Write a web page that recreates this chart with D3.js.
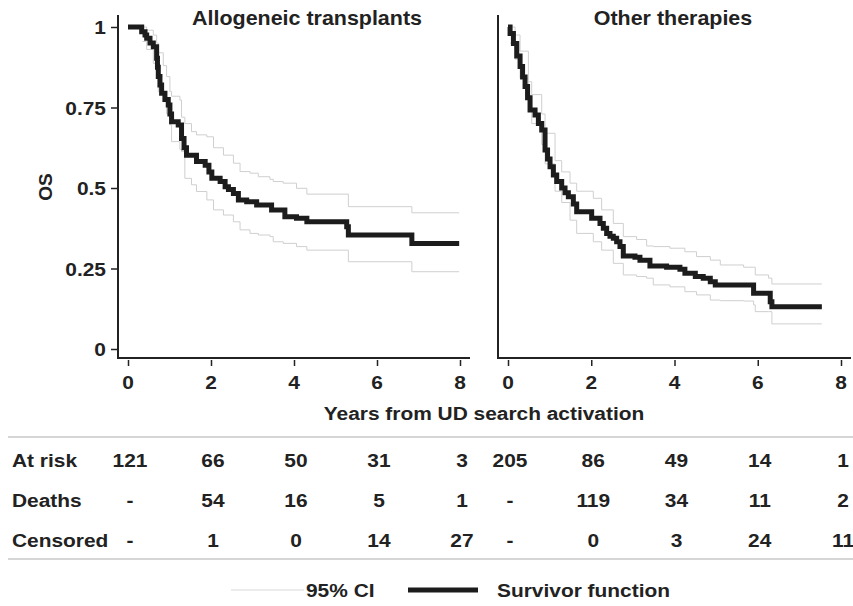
<!DOCTYPE html>
<html>
<head>
<meta charset="utf-8">
<script src="https://cdn.jsdelivr.net/npm/d3@7"></script>
<style>
  body { margin: 0; background: #fff; }
  svg text { font-family: "Liberation Sans", Arial, Helvetica, sans-serif; font-weight: bold; fill: #222; }
</style>
</head>
<body>
<svg id="chart"></svg>
<script>
// data
var years = [0, 2, 4, 6, 8];
var osTicks = [0, 0.25, 0.5, 0.75, 1];
var osTickLabels = ["0", "0.25", "0.5", "0.75", "1"];
var panelTitles = ["Allogeneic transplants", "Other therapies"];
var rowLabels = ["At risk", "Deaths", "Censored"];

// allogeneic transplants: survivor function (step after each time)
var alloTime = [0, 0.33, 0.41, 0.45, 0.53, 0.61, 0.69, 0.71, 0.73, 0.77, 0.81, 0.89, 0.97, 1.01, 1.05, 1.21, 1.29, 1.35, 1.41, 1.65,
  1.86, 1.95, 2.02, 2.22, 2.34, 2.42, 2.54, 2.66, 2.86, 3.10, 3.46, 3.78, 4.06, 4.31, 5.27, 5.31, 6.84];
var alloSurv = [1, 0.985, 0.975, 0.965, 0.95, 0.939, 0.903, 0.875, 0.846, 0.82, 0.794, 0.775, 0.758, 0.73, 0.706, 0.696, 0.654, 0.625, 0.602, 0.582,
  0.571, 0.55, 0.53, 0.52, 0.504, 0.495, 0.483, 0.463, 0.457, 0.447, 0.432, 0.411, 0.406, 0.395, 0.38, 0.354, 0.328];
var alloEnd = 7.98;
var alloCiTime = [0.35, 0.45, 0.61, 0.69, 0.73, 0.85, 0.93, 1.01, 1.05, 1.25, 1.29, 1.37, 1.53, 1.65, 1.90, 2.06, 2.30, 2.54, 2.70, 2.94,
  3.14, 3.42, 3.50, 3.74, 4.06, 4.31, 5.31, 6.84];
var alloLower = [0.955, 0.93, 0.887, 0.85, 0.799, 0.768, 0.73, 0.696, 0.644, 0.62, 0.613, 0.53, 0.51, 0.489, 0.463, 0.432, 0.416, 0.395, 0.37, 0.359,
  0.354, 0.349, 0.333, 0.328, 0.318, 0.307, 0.271, 0.24];
var alloUpper = [1.0, 0.99, 0.975, 0.95, 0.92, 0.88, 0.846, 0.80, 0.785, 0.773, 0.72, 0.70, 0.675, 0.665, 0.659, 0.625, 0.602, 0.577, 0.551, 0.546,
  0.535, 0.527, 0.52, 0.515, 0.499, 0.481, 0.442, 0.423];

// other therapies
var otherTime = [0, 0.05, 0.13, 0.21, 0.29, 0.35, 0.41, 0.47, 0.53, 0.65, 0.73, 0.81, 0.89, 0.95, 1.01, 1.09, 1.17, 1.29, 1.37, 1.45,
  1.57, 1.65, 2.01, 2.21, 2.29, 2.37, 2.45, 2.53, 2.61, 2.69, 2.77, 3.05, 3.17, 3.41, 3.81, 4.13, 4.25, 4.50, 4.69, 4.86,
  4.98, 5.90, 6.30, 6.34];
var otherSurv = [1, 0.98, 0.949, 0.91, 0.877, 0.845, 0.815, 0.78, 0.742, 0.727, 0.70, 0.68, 0.618, 0.59, 0.566, 0.54, 0.52, 0.50, 0.485, 0.473,
  0.45, 0.426, 0.406, 0.39, 0.375, 0.359, 0.35, 0.344, 0.333, 0.318, 0.289, 0.285, 0.276, 0.258, 0.254, 0.248, 0.235, 0.225, 0.22, 0.209,
  0.199, 0.173, 0.147, 0.131];
var otherEnd = 7.54;
var otherCiTime = [0.05, 0.17, 0.29, 0.49, 0.57, 0.81, 0.89, 1.13, 1.29, 1.49, 1.65, 2.05, 2.25, 2.53, 2.77, 3.09, 3.33, 3.49, 3.89, 4.25,
  4.53, 4.86, 5.10, 5.66, 5.90, 5.94, 6.26, 6.34];
var otherLower = [0.95, 0.90, 0.84, 0.74, 0.70, 0.635, 0.575, 0.49, 0.455, 0.40, 0.359, 0.333, 0.307, 0.266, 0.23, 0.225, 0.22, 0.199, 0.193, 0.178,
  0.168, 0.152, 0.15, 0.149, 0.137, 0.116, 0.116, 0.078];
var otherUpper = [1.0, 0.975, 0.925, 0.83, 0.79, 0.73, 0.67, 0.585, 0.55, 0.515, 0.49, 0.468, 0.432, 0.39, 0.349, 0.34, 0.32, 0.318, 0.313, 0.302,
  0.287, 0.276, 0.261, 0.254, 0.254, 0.23, 0.22, 0.202];

// risk table
var alloAtRisk = [121, 66, 50, 31, 3];
var alloDeaths = ["-", 54, 16, 5, 1];
var alloCensored = ["-", 1, 0, 14, 27];
var otherAtRisk = [205, 86, 49, 14, 1];
var otherDeaths = ["-", 119, 34, 11, 2];
var otherCensored = ["-", 0, 3, 24, 11];

var WIDTH = 853, HEIGHT = 606;
var SX = 1.1; // text in the reference is slightly stretched horizontally

var svg = d3.select("#chart").attr("width", WIDTH).attr("height", HEIGHT);

function label(g, x, y, str, anchor, size) {
  return g.append("text")
    .attr("transform", "translate(" + x + "," + y + ") scale(" + SX + ",1)")
    .attr("text-anchor", anchor)
    .style("font-size", size + "px")
    .text(str);
}

var y = d3.scaleLinear().domain([0, 1]).range([349, 27]);

var panels = [
  { x0: 118, range: [128, 460], axisEnd: 470, titleX: 307, title: panelTitles[0], time: alloTime, surv: alloSurv, end: alloEnd,
    ciTime: alloCiTime, lower: alloLower, upper: alloUpper, table: [alloAtRisk, alloDeaths, alloCensored] },
  { x0: 498, range: [508, 841], axisEnd: 851, titleX: 673, title: panelTitles[1], time: otherTime, surv: otherSurv, end: otherEnd,
    ciTime: otherCiTime, lower: otherLower, upper: otherUpper, table: [otherAtRisk, otherDeaths, otherCensored] }
];

var rowY = [467, 507, 547];

panels.forEach(function (p, pi) {
  var x = d3.scaleLinear().domain([0, 8]).range(p.range);
  var g = svg.append("g");

  var step = d3.line()
    .x(function (d) { return x(d[0]); })
    .y(function (d) { return y(d[1]); })
    .curve(d3.curveStepAfter);

  function pts(times, vals, end) {
    var a = times.map(function (t, i) { return [t, vals[i]]; });
    a.push([end, vals[vals.length - 1]]);
    return a;
  }

  // 95% CI
  [p.lower, p.upper].forEach(function (band) {
    g.append("path")
      .datum(pts(p.ciTime, band, p.end))
      .attr("d", step)
      .attr("fill", "none")
      .attr("stroke", "#cfcfcf")
      .attr("stroke-width", 1);
  });

  // survivor function
  g.append("path")
    .datum(pts(p.time, p.surv, p.end))
    .attr("d", step)
    .attr("fill", "none")
    .attr("stroke", "#1c1c1c")
    .attr("stroke-width", 5);

  // axis lines
  g.append("line").attr("x1", p.x0).attr("x2", p.x0).attr("y1", 15).attr("y2", 359)
    .attr("stroke", "#222").attr("stroke-width", 2);
  g.append("line").attr("x1", p.x0 - 1).attr("x2", p.axisEnd).attr("y1", 358).attr("y2", 358)
    .attr("stroke", "#222").attr("stroke-width", 2);

  // x ticks
  var xAxis = g.append("g")
    .attr("transform", "translate(0,360)")
    .call(d3.axisBottom(x).tickValues(years).tickSize(6).tickSizeOuter(0).tickFormat(""));
  xAxis.select(".domain").remove();
  xAxis.selectAll(".tick line").attr("stroke", "#222").attr("stroke-width", 1.5);
  years.forEach(function (v) {
    label(g, x(v), 389, String(v), "middle", 19);
  });

  // y ticks on the first panel only
  if (pi === 0) {
    var yAxis = g.append("g")
      .attr("transform", "translate(" + (p.x0 - 1) + ",0)")
      .call(d3.axisLeft(y).tickValues(osTicks).tickSize(6).tickSizeOuter(0).tickFormat(""));
    yAxis.select(".domain").remove();
    yAxis.selectAll(".tick line").attr("stroke", "#222").attr("stroke-width", 1.5);
    osTicks.forEach(function (v, i) {
      label(g, 106, y(v) + 7, osTickLabels[i], "end", 19);
    });
  }

  // title
  label(g, p.titleX, 25, p.title, "middle", 19.5);

  // risk table numbers
  p.table.forEach(function (row, ri) {
    row.forEach(function (v, ci) {
      label(g, x(years[ci]) + 2, rowY[ri], String(v), "middle", 19);
    });
  });
});

// y label
svg.append("text")
  .attr("transform", "translate(52,187) rotate(-90)")
  .attr("text-anchor", "middle")
  .style("font-size", "19px")
  .text("OS");

// x label
label(svg, 484, 420, "Years from UD search activation", "middle", 19);

// table frame and row labels
svg.append("line").attr("x1", 8).attr("x2", WIDTH).attr("y1", 437).attr("y2", 437)
  .attr("stroke", "#c8c8c8").attr("stroke-width", 1.5);
svg.append("line").attr("x1", 8).attr("x2", WIDTH).attr("y1", 559).attr("y2", 559)
  .attr("stroke", "#c8c8c8").attr("stroke-width", 1.5);
rowLabels.forEach(function (r, i) {
  label(svg, 12, rowY[i], r, "start", 19);
});

// legend
var leg = svg.append("g");
leg.append("line").attr("x1", 231).attr("x2", 304).attr("y1", 590).attr("y2", 590)
  .attr("stroke", "#d8d8d8").attr("stroke-width", 1);
label(leg, 306, 597, "95% CI", "start", 19);
leg.append("line").attr("x1", 408).attr("x2", 478).attr("y1", 590).attr("y2", 590)
  .attr("stroke", "#1c1c1c").attr("stroke-width", 5);
label(leg, 497, 597, "Survivor function", "start", 19);
</script>
</body>
</html>
